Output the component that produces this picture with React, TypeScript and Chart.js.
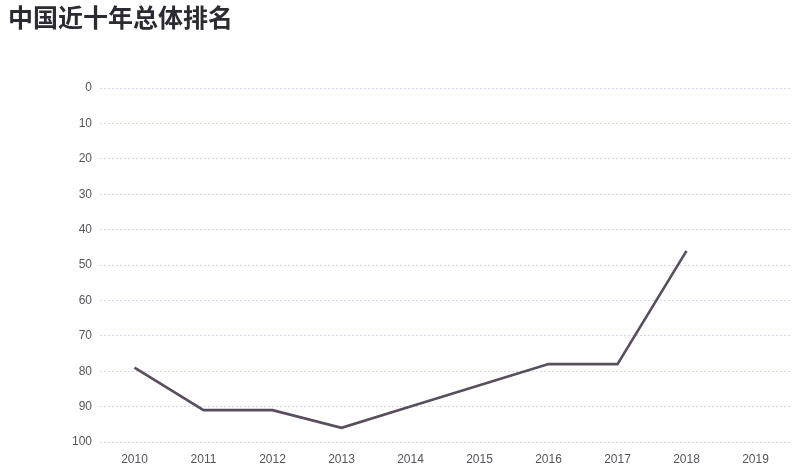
import React, { useEffect, useRef } from 'react'
import Chart from 'chart.js/auto'

const years = ['2010', '2011', '2012', '2013', '2014', '2015', '2016', '2017', '2018', '2019']
const ranks = [79, 91, 91, 96, 90, 84, 78, 78, 46, null]
const rankTicks = [0, 10, 20, 30, 40, 50, 60, 70, 80, 90, 100]

const tickFont = { family: '"Liberation Sans", Arial, sans-serif', size: 12 }

export default function App() {
  const chartRef = useRef<HTMLCanvasElement | null>(null)
  const chartInstance = useRef<Chart | null>(null)

  useEffect(() => {
    if (!chartRef.current) return
    const ctx = chartRef.current.getContext('2d')
    if (!ctx) return
    if (chartInstance.current) chartInstance.current.destroy()

    chartInstance.current = new Chart(ctx, {
      type: 'line',
      data: {
        labels: years,
        datasets: [
          {
            label: '排名',
            data: ranks,
            borderColor: '#5a4e5e',
            backgroundColor: '#5a4e5e',
            borderWidth: 2.6,
            pointRadius: 0,
            tension: 0,
            spanGaps: false,
          },
        ],
      },
      options: {
        animation: false,
        responsive: true,
        maintainAspectRatio: false,
        layout: { padding: { top: 88, left: 72, right: 22, bottom: 10 } },
        scales: {
          x: {
            offset: true,
            grid: { display: false, drawTicks: false },
            border: { display: false },
            ticks: { color: '#57525c', padding: 10, font: tickFont, maxRotation: 0 },
            afterFit: (scale) => {
              scale.height = 24
            },
          },
          y: {
            reverse: true,
            min: 0,
            max: 100,
            afterBuildTicks: (scale) => {
              scale.ticks = rankTicks.map(v => ({ value: v }))
            },
            grid: { color: '#d6d5ec', drawTicks: false, lineWidth: 1 },
            border: { display: false, dash: [2, 2] },
            ticks: { color: '#57525c', padding: 8, font: tickFont },
            afterFit: (scale) => {
              scale.width = 28
            },
          },
        },
        plugins: {
          legend: { display: false },
          tooltip: { enabled: false },
        },
      },
    })

    return () => {
      if (chartInstance.current) {
        chartInstance.current.destroy()
        chartInstance.current = null
      }
    }
  }, [])

  return (
    <div style={{ position: 'fixed', left: 0, top: 0, width: 812, height: 476, background: '#fff' }}>
      <div
        style={{
          position: 'absolute',
          left: 8,
          top: 4,
          fontFamily: '"Noto Sans CJK SC", sans-serif',
          fontWeight: 'bold',
          fontSize: 25,
          lineHeight: 1,
          color: '#2d2a33',
          whiteSpace: 'nowrap',
        }}
      >
        中国近十年总体排名
      </div>
      <div style={{ position: 'absolute', left: 0, top: 0, width: 812, height: 476 }}>
        <canvas ref={chartRef} />
      </div>
    </div>
  )
}
